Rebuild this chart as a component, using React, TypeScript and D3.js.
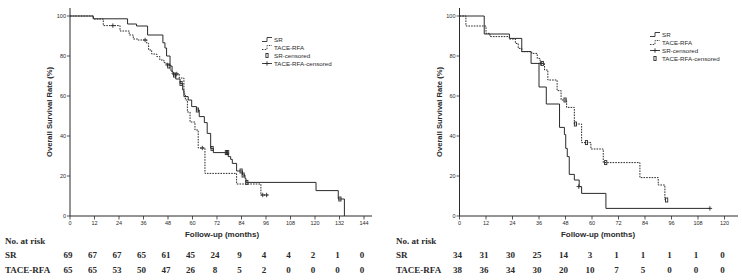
import React from "react";
import * as d3 from "d3";

// ---------- DATA ----------
type Pt = [number, number];

// Left panel
const leftTicks = [0, 12, 24, 36, 48, 60, 72, 84, 96, 108, 120, 132, 144];
const leftSR: Pt[] = [
  [0, 100], [11.4, 98.6], [28.2, 96], [32.6, 95], [38, 90.5], [45.5, 86.6], [46.5, 84], [47.3, 80],
  [49, 75], [50, 72], [50.6, 70.5], [51.8, 68.5], [53.9, 66.3], [55.2, 63], [55.8, 59.7], [57.9, 58],
  [59.6, 54.7], [62, 53], [63.3, 49.7], [65.8, 46.7], [67.2, 41.3], [68.9, 33.8], [70.2, 31.7],
  [77.5, 29.7], [78.7, 28.3], [79.5, 26.3], [81.6, 22.5], [84.5, 20.5], [85.7, 18.8], [86.2, 16.8],
  [120.5, 12.7], [131.4, 8.5], [134.4, 0],
];
const leftSREnd = 134.4;
const leftSRCens: Pt[] = [[48.4, 75], [51.2, 70.5], [54.4, 66.3], [62.4, 53], [69.6, 33.8], [76.6, 31.7], [77.2, 31.7], [83.8, 22.5], [84.8, 20.5], [86.6, 16.8], [132.2, 8.5]];
const leftTR: Pt[] = [
  [0, 100], [11.4, 98.5], [16.3, 95.2], [24.5, 92.5], [29, 90.5], [31, 88.5], [33.1, 88], [37.6, 86.3],
  [38.5, 83], [40, 81], [42.5, 79.7], [44, 78], [46, 76.7], [47.1, 75.5], [49, 73], [50, 71], [53.5, 69],
  [55.8, 61], [56.5, 58], [57.5, 52], [58.8, 47], [61.2, 43], [62.8, 34], [66.1, 21.3], [81.6, 16],
  [93.5, 10.5],
];
const leftTREnd = 96.8;
const leftTRCens: Pt[] = [[21, 95.2], [36.8, 88], [47.8, 75.5], [52.3, 71], [64.8, 34], [94.4, 10.5], [96.3, 10.5]];
const leftRiskSR = [69, 67, 67, 65, 61, 45, 24, 9, 4, 4, 2, 1, 0];
const leftRiskTR = [65, 65, 53, 50, 47, 26, 8, 5, 2, 0, 0, 0, 0];

// Right panel
const rightTicks = [0, 12, 24, 36, 48, 60, 72, 84, 96, 108, 120];
const rightSR: Pt[] = [
  [0, 100], [11.2, 91], [22.6, 88.8], [28.2, 82.2], [32.4, 76.3], [36, 64.5], [39.3, 56], [45.3, 44.3],
  [47.5, 40.7], [48.1, 33.8], [48.8, 29.7], [49.7, 20.8], [52, 18], [54.2, 14.7], [55.3, 11.3],
  [66.3, 3.8],
];
const rightSREnd = 113.4;
const rightSRCens: Pt[] = [[36.8, 76.3], [54, 14.7], [113.4, 3.8]];
const rightTR: Pt[] = [
  [0, 100], [2.9, 95], [12, 91.3], [13.8, 89.7], [22.6, 88.5], [25.3, 86.3], [26.6, 83.8], [28.2, 82.2],
  [32.7, 81.3], [35.2, 78.8], [36.5, 76.3], [38.5, 73], [40, 68], [44.2, 62.7], [46, 58], [48.5, 54.3],
  [52, 46], [55.3, 36.7], [59.5, 33.5], [65.1, 26.7], [81.7, 19.2], [90, 15.5], [93, 8],
];
const rightTREnd = 93.8;
const rightTRCens: Pt[] = [[37.5, 76.3], [47.8, 58], [52.5, 46], [57.5, 36.7], [66.2, 26.7], [93.8, 8]];
const rightRiskSR = [34, 31, 30, 25, 14, 3, 1, 1, 1, 1, 0];
const rightRiskTR = [38, 36, 34, 30, 20, 10, 7, 5, 0, 0, 0];

const yTicks = [0, 20, 40, 60, 80, 100];
const groupNames = ["SR", "TACE-RFA"];

// ---------- DRAWING ----------
const INK = "#2a2a2a";
const SANS = "Arial, 'Liberation Sans', Helvetica, sans-serif";
const SERIF = "'Times New Roman', 'Liberation Serif', serif";

type PanelProps = {
  x0: number; x1: number; axisEnd: number; tMax: number; ticks: number[];
  sr: Pt[]; srEnd: number; srCens: Pt[]; tr: Pt[]; trEnd: number; trCens: Pt[];
  riskSR: number[]; riskTR: number[];
  legendX: number; legendY: number; srCensRect: boolean;
  tableX: number; yLabelX: number; xLabelX: number;
};

const y = d3.scaleLinear().domain([0, 100]).range([216, 16]);

function Plus({ cx, cy }: { cx: number; cy: number }) {
  return (
    <g stroke={INK} strokeWidth={0.9}>
      <line x1={cx - 2.2} x2={cx + 2.2} y1={cy} y2={cy} />
      <line x1={cx} x2={cx} y1={cy - 2.2} y2={cy + 2.2} />
    </g>
  );
}
function Box({ cx, cy }: { cx: number; cy: number }) {
  return <rect x={cx - 1.1} y={cy - 2} width={2.2} height={4} fill="none" stroke={INK} strokeWidth={0.9} />;
}

function Panel(p: PanelProps) {
  const x = d3.scaleLinear().domain([0, p.tMax]).range([p.x0, p.x1]);
  const line = d3.line<Pt>().x((d) => x(d[0])).y((d) => y(d[1])).curve(d3.curveStepAfter);
  const srPts: Pt[] = [...p.sr, [p.srEnd, p.sr[p.sr.length - 1][1]]];
  const trPts: Pt[] = [...p.tr, [p.trEnd, p.tr[p.tr.length - 1][1]]];
  const SRC = p.srCensRect ? Box : Plus;
  const TRC = p.srCensRect ? Plus : Box;
  const lx = p.legendX, ly = p.legendY, ls = 8;
  const stepIcon = (yy: number, dashed: boolean) => (
    <path d={`M${lx},${yy + 2} H${lx + 5} V${yy - 2} H${lx + 10}`} fill="none" stroke={INK} strokeWidth={0.9}
      strokeDasharray={dashed ? "1.5,1.2" : undefined} />
  );
  const legendItems = [
    { label: "SR", icon: stepIcon(ly, false) },
    { label: "TACE-RFA", icon: stepIcon(ly + ls, true) },
    {
      label: "SR-censored",
      icon: p.srCensRect ? <Box cx={lx + 5} cy={ly + 2 * ls} /> :
        <g><line x1={lx} x2={lx + 10} y1={ly + 2 * ls} y2={ly + 2 * ls} stroke={INK} strokeWidth={0.9} /><Plus cx={lx + 5} cy={ly + 2 * ls} /></g>,
    },
    {
      label: "TACE-RFA-censored",
      icon: p.srCensRect ?
        <g><line x1={lx} x2={lx + 10} y1={ly + 3 * ls} y2={ly + 3 * ls} stroke={INK} strokeWidth={0.9} /><Plus cx={lx + 5} cy={ly + 3 * ls} /></g> :
        <Box cx={lx + 5} cy={ly + 3 * ls} />,
    },
  ];
  return (
    <g>
      {/* axes */}
      <line x1={p.x0} x2={p.x0} y1={8} y2={216} stroke={INK} strokeWidth={1} />
      <line x1={p.x0} x2={p.axisEnd} y1={216} y2={216} stroke={INK} strokeWidth={1} />
      {yTicks.map((t) => (
        <g key={"y" + t}>
          <line x1={p.x0 - 3} x2={p.x0} y1={y(t)} y2={y(t)} stroke={INK} strokeWidth={0.8} />
          <text x={p.x0 - 4} y={y(t) + 2} textAnchor="end" fontSize={5.5} fontFamily={SANS} fill={INK}>{t}</text>
        </g>
      ))}
      {p.ticks.map((t) => (
        <g key={"x" + t}>
          <line x1={x(t)} x2={x(t)} y1={216} y2={219.5} stroke={INK} strokeWidth={0.8} />
          <text x={x(t)} y={224.5} textAnchor="middle" fontSize={5.5} fontFamily={SANS} fill={INK}>{t}</text>
        </g>
      ))}
      <text transform={`translate(${p.yLabelX},112) rotate(-90)`} textAnchor="middle" fontSize={7.6}
        fontWeight="bold" fontFamily={SANS} fill={INK}>Overall Survival Rate (%)</text>
      <text x={p.xLabelX} y={237} textAnchor="middle" fontSize={8} fontWeight="bold" fontFamily={SANS} fill={INK}>
        Follow-up (months)
      </text>
      {/* curves */}
      <path d={line(trPts) || ""} fill="none" stroke={INK} strokeWidth={1} strokeDasharray="1.6,1.1" />
      <path d={line(srPts) || ""} fill="none" stroke={INK} strokeWidth={1} />
      {p.srCens.map((c, i) => <SRC key={"sc" + i} cx={x(c[0])} cy={y(c[1])} />)}
      {p.trCens.map((c, i) => <TRC key={"tc" + i} cx={x(c[0])} cy={y(c[1])} />)}
      {/* legend */}
      {legendItems.map((it, i) => (
        <g key={"lg" + i}>
          {it.icon}
          <text x={lx + 12} y={ly + i * ls + 2.2} fontSize={6.2} fontFamily={SANS} fill={INK}>{it.label}</text>
        </g>
      ))}
      {/* risk table */}
      <text x={p.tableX} y={243.5} fontSize={9} fontWeight="bold" fontFamily={SERIF} fill={INK}>No. at risk</text>
      {[p.riskSR, p.riskTR].map((row, r) => (
        <g key={"row" + r}>
          <text x={p.tableX} y={258 + r * 15} fontSize={9} fontWeight="bold" fontFamily={SERIF} fill={INK}>{groupNames[r]}</text>
          {row.map((v, i) => (
            <text key={i} x={x(p.ticks[i]) - 2} y={258 + r * 15} textAnchor="middle" fontSize={9}
              fontWeight="bold" fontFamily={SERIF} fill={INK}>{v}</text>
          ))}
        </g>
      ))}
    </g>
  );
}

export default function App() {
  return (
    <svg width={742} height={280} style={{ position: "absolute", left: 0, top: 0, background: "#fff" }}>
      <rect width={742} height={280} fill="#fff" />
      <Panel x0={70} x1={364} axisEnd={372} tMax={144} ticks={leftTicks}
        sr={leftSR} srEnd={leftSREnd} srCens={leftSRCens} tr={leftTR} trEnd={leftTREnd} trCens={leftTRCens}
        riskSR={leftRiskSR} riskTR={leftRiskTR} legendX={262} legendY={39.5} srCensRect={true}
        tableX={5} yLabelX={52} xLabelX={222} />
      <Panel x0={459.5} x1={724.5} axisEnd={738} tMax={120} ticks={rightTicks}
        sr={rightSR} srEnd={rightSREnd} srCens={rightSRCens} tr={rightTR} trEnd={rightTREnd} trCens={rightTRCens}
        riskSR={rightRiskSR} riskTR={rightRiskTR} legendX={650} legendY={34.5} srCensRect={false}
        tableX={396} yLabelX={442} xLabelX={598} />
    </svg>
  );
}
